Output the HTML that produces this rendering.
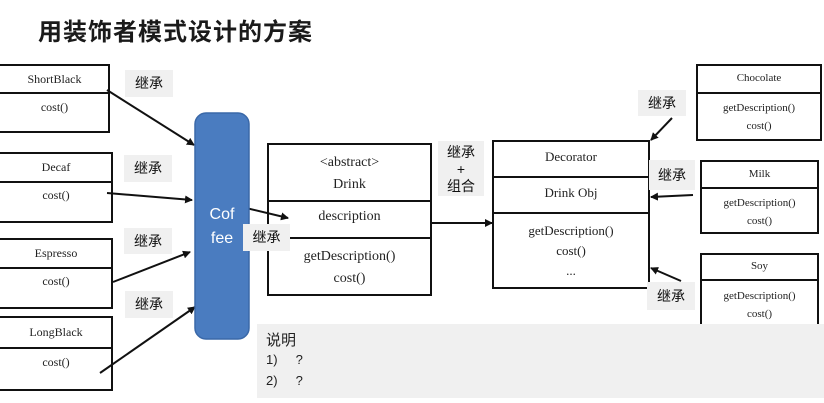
<!DOCTYPE html>
<html><head><meta charset="utf-8"><style>
body{margin:0;width:824px;height:403px;background:#fff;position:relative;overflow:hidden;font-family:"Liberation Serif","Noto Serif CJK SC",serif;}
.a{position:absolute;box-sizing:border-box;}
.lab{position:absolute;background:#f0f0f0;font-family:"Liberation Sans","Noto Sans CJK SC",sans-serif;font-size:14px;color:#111;text-align:center;}
.c{color:#222;}
</style></head><body>
<div class="a" style="left:38px;top:12px;font-family:'Liberation Sans','Noto Sans CJK SC',sans-serif;font-size:24px;font-weight:bold;color:#1a1a1a;letter-spacing:1px;">用装饰者模式设计的方案</div>

<svg class="a" style="left:0;top:0" width="824" height="403">
<defs><marker id="m" markerWidth="8" markerHeight="8" refX="7" refY="4" orient="auto" markerUnits="userSpaceOnUse"><path d="M0,0 L8,4 L0,8 z" fill="#111"/></marker></defs>
<g stroke="#111" stroke-width="2" fill="none">
<rect x="-2" y="65" width="111" height="67"/><line x1="0" y1="93" x2="109" y2="93"/>
<rect x="-2" y="153" width="114" height="69"/><line x1="0" y1="182" x2="112" y2="182"/>
<rect x="-2" y="239" width="114" height="69"/><line x1="0" y1="268" x2="112" y2="268"/>
<rect x="-2" y="317" width="114" height="73"/><line x1="0" y1="348" x2="112" y2="348"/>
<rect x="268" y="144" width="163" height="151"/><line x1="268" y1="201" x2="431" y2="201"/><line x1="268" y1="238" x2="431" y2="238"/>
<rect x="493" y="141" width="156" height="147"/><line x1="493" y1="177" x2="649" y2="177"/><line x1="493" y1="213" x2="649" y2="213"/>
<rect x="697" y="65" width="124" height="75"/><line x1="697" y1="93" x2="821" y2="93"/>
<rect x="701" y="161" width="117" height="72"/><line x1="701" y1="188" x2="818" y2="188"/>
<rect x="701" y="254" width="117" height="80"/><line x1="701" y1="280" x2="818" y2="280"/>
<line x1="107" y1="90" x2="194" y2="145" marker-end="url(#m)"/>
<line x1="107" y1="193" x2="192" y2="200" marker-end="url(#m)"/>
<line x1="113" y1="282" x2="190" y2="252" marker-end="url(#m)"/>
<line x1="100" y1="373" x2="195" y2="307" marker-end="url(#m)"/>
<line x1="246" y1="208" x2="288" y2="218" marker-end="url(#m)"/>
<line x1="431" y1="223" x2="492" y2="223" marker-end="url(#m)"/>
<line x1="672" y1="118" x2="651" y2="140" marker-end="url(#m)"/>
<line x1="693" y1="195" x2="651" y2="197" marker-end="url(#m)"/>
<line x1="681" y1="281" x2="651" y2="268" marker-end="url(#m)"/>
</g>
<rect x="195" y="113" width="54" height="226" rx="11" fill="#4a7cc0" stroke="#3a68a8" stroke-width="1.5"/>
</svg>

<div class="a" style="left:195px;top:203px;width:54px;text-align:center;color:#fff;font-family:'Liberation Sans',sans-serif;font-size:16px;line-height:24px;">Cof<br>fee</div>

<div class="a c" style="left:0;top:72px;width:109px;text-align:center;font-size:12px;">ShortBlack</div>
<div class="a c" style="left:0;top:100px;width:109px;text-align:center;font-size:12px;">cost()</div>
<div class="a c" style="left:0;top:160px;width:112px;text-align:center;font-size:12px;">Decaf</div>
<div class="a c" style="left:0;top:188px;width:112px;text-align:center;font-size:12px;">cost()</div>
<div class="a c" style="left:0;top:246px;width:112px;text-align:center;font-size:12px;">Espresso</div>
<div class="a c" style="left:0;top:274px;width:112px;text-align:center;font-size:12px;">cost()</div>
<div class="a c" style="left:0;top:325px;width:112px;text-align:center;font-size:12px;">LongBlack</div>
<div class="a c" style="left:0;top:355px;width:112px;text-align:center;font-size:12px;">cost()</div>

<div class="a c" style="left:268px;top:152px;width:163px;text-align:center;font-size:14px;line-height:22px;">&lt;abstract&gt;<br>Drink</div>
<div class="a c" style="left:268px;top:209px;width:163px;text-align:center;font-size:14px;">description</div>
<div class="a c" style="left:268px;top:246px;width:163px;text-align:center;font-size:14px;line-height:22px;">getDescription()<br>cost()</div>

<div class="a c" style="left:493px;top:149px;width:156px;text-align:center;font-size:13px;">Decorator</div>
<div class="a c" style="left:493px;top:185px;width:156px;text-align:center;font-size:13px;">Drink Obj</div>
<div class="a c" style="left:493px;top:221px;width:156px;text-align:center;font-size:13px;line-height:20px;">getDescription()<br>cost()<br>...</div>

<div class="a c" style="left:697px;top:72px;width:124px;text-align:center;font-size:11px;">Chocolate</div>
<div class="a c" style="left:697px;top:99px;width:124px;text-align:center;font-size:11px;line-height:18px;">getDescription()<br>cost()</div>
<div class="a c" style="left:701px;top:168px;width:117px;text-align:center;font-size:11px;">Milk</div>
<div class="a c" style="left:701px;top:194px;width:117px;text-align:center;font-size:11px;line-height:18px;">getDescription()<br>cost()</div>
<div class="a c" style="left:701px;top:260px;width:117px;text-align:center;font-size:11px;">Soy</div>
<div class="a c" style="left:701px;top:287px;width:117px;text-align:center;font-size:11px;line-height:18px;">getDescription()<br>cost()</div>

<div class="lab" style="left:125px;top:70px;width:48px;height:27px;line-height:27px;">继承</div>
<div class="lab" style="left:124px;top:155px;width:48px;height:27px;line-height:27px;">继承</div>
<div class="lab" style="left:124px;top:228px;width:48px;height:26px;line-height:26px;">继承</div>
<div class="lab" style="left:125px;top:291px;width:48px;height:27px;line-height:27px;">继承</div>
<div class="lab" style="left:243px;top:224px;width:47px;height:27px;line-height:27px;">继承</div>
<div class="lab" style="left:438px;top:141px;width:46px;height:55px;line-height:17px;padding-top:3px;box-sizing:border-box;">继承<br>+<br>组合</div>
<div class="lab" style="left:638px;top:90px;width:48px;height:26px;line-height:26px;">继承</div>
<div class="lab" style="left:649px;top:160px;width:46px;height:30px;line-height:30px;">继承</div>
<div class="lab" style="left:647px;top:282px;width:48px;height:28px;line-height:28px;">继承</div>

<div class="a" style="left:257px;top:324px;width:567px;height:74px;background:#f0f0f0;font-family:'Liberation Sans','Noto Sans CJK SC',sans-serif;color:#222;">
<div style="position:absolute;left:9px;top:5px;font-size:15px;">说明</div>
<div style="position:absolute;left:9px;top:28px;font-size:13px;">1)&nbsp;&nbsp;&nbsp;&nbsp;&nbsp;?</div>
<div style="position:absolute;left:9px;top:49px;font-size:13px;">2)&nbsp;&nbsp;&nbsp;&nbsp;&nbsp;?</div>
</div>
</body></html>
